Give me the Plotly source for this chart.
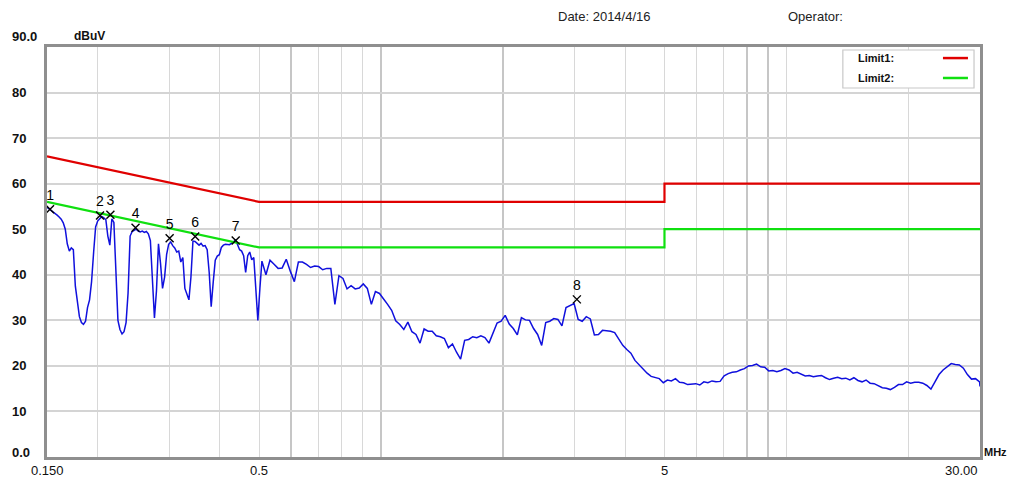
import math
import plotly.graph_objects as go

# ---------------- data ----------------
freq_mhz = [
    0.1500, 0.1517, 0.1535, 0.1553, 0.1571, 0.1589, 0.1607, 0.1626, 0.1645, 0.1664,
    0.1683, 0.1703, 0.1722, 0.1742, 0.1762, 0.1783, 0.1803, 0.1824, 0.1845, 0.1867,
    0.1888, 0.1910, 0.1932, 0.1955, 0.1977, 0.2000, 0.2024, 0.2047, 0.2071, 0.2095,
    0.2119, 0.2143, 0.2168, 0.2193, 0.2219, 0.2244, 0.2270, 0.2297, 0.2323, 0.2350,
    0.2377, 0.2405, 0.2433, 0.2461, 0.2489, 0.2518, 0.2547, 0.2577, 0.2607, 0.2637,
    0.2667, 0.2698, 0.2730, 0.2761, 0.2793, 0.2825, 0.2858, 0.2891, 0.2925, 0.2959,
    0.2993, 0.3028, 0.3063, 0.3098, 0.3134, 0.3170, 0.3207, 0.3244, 0.3282, 0.3320,
    0.3358, 0.3397, 0.3436, 0.3476, 0.3516, 0.3557, 0.3598, 0.3640, 0.3682, 0.3725,
    0.3768, 0.3811, 0.3856, 0.3900, 0.3945, 0.3991, 0.4037, 0.4084, 0.4131, 0.4179,
    0.4228, 0.4276, 0.4326, 0.4376, 0.4427, 0.4478, 0.4530, 0.4582, 0.4635, 0.4689,
    0.4743, 0.4798, 0.4854, 0.4910, 0.4967, 0.5025,
    0.5083, 0.5201, 0.5322, 0.5446, 0.5573, 0.5703, 0.5836, 0.5972, 0.6111, 0.6253,
    0.6399, 0.6548, 0.6700, 0.6856, 0.7016, 0.7179, 0.7347, 0.7518, 0.7693, 0.7872,
    0.8055, 0.8243, 0.8435, 0.8632, 0.8833, 0.9038, 0.9249, 0.9464, 0.9685, 0.9910,
    1.0141, 1.0377, 1.0619, 1.0867, 1.1120, 1.1379, 1.1644, 1.1915, 1.2192, 1.2476,
    1.2767, 1.3064, 1.3369, 1.3680, 1.3999, 1.4325, 1.4659, 1.5000, 1.5349, 1.5707,
    1.6073, 1.6446, 1.6829, 1.7223, 1.7624, 1.8034, 1.8455, 1.8884, 1.9323, 1.9775,
    2.0235, 2.0706, 2.1188, 2.1681, 2.2187, 2.2704, 2.3232, 2.3774, 2.4327, 2.4894,
    2.5473, 2.6067, 2.6674, 2.7296, 2.7932, 2.8583, 2.9247, 2.9930, 3.0626, 3.1340,
    3.2070, 3.2817, 3.3581, 3.4364, 3.5163, 3.5982, 3.6821, 3.7679, 3.8556, 3.9455,
    4.0373, 4.1314, 4.2277, 4.3262, 4.4269, 4.5302, 4.6356, 4.7435, 4.8540, 4.9672,
    5.0828, 5.2012, 5.3222, 5.4462, 5.5731, 5.7029, 5.8358, 5.9717, 6.1107, 6.2531,
    6.3987, 6.5478, 6.7002, 6.8564, 7.0161, 7.1795, 7.3467, 7.5179, 7.6929, 7.8722,
    8.0555, 8.2431, 8.4351, 8.6316, 8.8326, 9.0384, 9.2487, 9.4644, 9.6848, 9.9104,
    10.141, 10.377, 10.619, 10.867, 11.120, 11.379, 11.644, 11.915, 12.192, 12.476,
    12.767, 13.064, 13.369, 13.680, 13.999, 14.325, 14.659, 15.000, 15.349, 15.707,
    16.073, 16.446, 16.829, 17.223, 17.624, 18.034, 18.455, 18.884, 19.323, 19.775,
    20.235, 20.706, 21.188, 21.681, 22.187, 22.704, 23.232, 23.774, 24.327, 24.894,
    25.473, 26.067, 26.674, 27.296, 27.932, 28.583, 29.247, 29.930, 30.000,
]

level_dbuv = [
    54.8, 54.5, 54.1, 53.8, 53.5, 53.1, 52.7, 52.2, 51.4, 50.0,
    46.8, 45.2, 45.9, 45.5, 37.5, 33.8, 30.8, 29.5, 29.1, 29.8,
    32.8, 34.5, 38.5, 45.0, 50.5, 51.8, 52.4, 52.8, 52.5, 52.1,
    48.5, 46.5, 52.3, 51.5, 40.5, 30.0, 28.0, 27.0, 27.5, 29.5,
    36.0, 48.5, 49.5, 49.8, 50.0, 49.6, 49.4, 49.6, 49.3, 49.5,
    49.0, 47.5, 39.5, 30.5, 36.5, 46.8, 42.5, 37.0, 39.5, 44.5,
    46.7, 47.2, 46.4, 45.9, 45.0, 45.2, 42.8, 43.8, 37.0, 35.5,
    34.5, 39.5, 47.4, 47.3, 46.8, 46.5, 46.9, 46.3, 46.4, 45.5,
    40.5, 33.0, 38.5, 43.2, 44.1, 44.4, 46.0, 46.5, 46.7, 46.6,
    46.6, 46.9, 47.3, 47.6, 46.6, 45.5, 45.2, 44.2, 40.5, 44.2,
    45.0, 43.3, 43.8, 38.0, 30.0, 37.0,
    43.0, 40.0, 43.2, 42.3, 41.4, 41.5, 43.4, 40.8, 38.5, 42.8,
    42.8, 42.3, 41.6, 41.9, 41.8, 41.1, 41.4, 41.4, 33.5, 39.8,
    39.2, 36.9, 37.6, 36.9, 37.1, 38.0, 37.0, 33.5, 36.3, 35.9,
    34.8, 33.5, 32.2, 29.9, 29.1, 28.0, 29.6, 27.5, 26.9, 25.0,
    28.1, 27.6, 27.6, 26.6, 26.4, 26.0, 24.0, 24.8, 23.0, 21.5,
    25.6, 25.8, 26.4, 26.2, 26.6, 26.2, 25.0, 27.3, 29.4, 29.8,
    31.1, 29.2, 28.2, 26.8, 30.6, 30.1, 30.0, 28.2, 26.9, 24.5,
    29.5, 29.8, 30.4, 30.2, 28.8, 32.8, 33.3, 33.7, 30.2, 29.8,
    30.8, 30.3, 26.8, 26.9, 27.8, 27.7, 27.6, 27.3, 25.8, 24.5,
    23.6, 22.8, 21.2, 20.2, 19.3, 18.4, 17.7, 17.5, 17.2, 16.3,
    16.9, 16.7, 17.2, 16.4, 16.3, 15.9, 16.0, 16.1, 15.8, 16.5,
    16.3, 16.7, 16.5, 16.6, 17.8, 18.3, 18.6, 18.7, 19.1, 19.4,
    20.0, 20.1, 20.4, 19.8, 19.7, 18.9, 19.0, 18.7, 19.0, 19.4,
    19.1, 18.4, 18.6, 18.2, 17.8, 17.9, 17.6, 17.8, 17.9, 17.4,
    17.0, 17.3, 17.5, 17.2, 17.3, 16.9, 17.4, 16.8, 16.5, 16.9,
    16.2, 16.1, 15.6, 15.2, 15.1, 14.8, 15.3, 15.9, 15.9, 16.5,
    16.2, 16.4, 16.4, 16.2, 15.7, 14.9, 16.5, 18.1, 19.1, 19.9,
    20.5, 20.3, 20.2, 19.5, 18.1, 17.1, 17.2, 16.5, 15.5,
]

limit1_freq = [0.15, 0.5, 5.0, 5.0, 30.0]
limit1_level = [66.0, 56.0, 56.0, 60.0, 60.0]
limit2_freq = [0.15, 0.5, 5.0, 5.0, 30.0]
limit2_level = [56.0, 46.0, 46.0, 50.0, 50.0]

marker_labels = ["1", "2", "3", "4", "5", "6", "7", "8"]
marker_freq = [0.1526, 0.2027, 0.2150, 0.248, 0.301, 0.348, 0.438, 3.04]
marker_level = [54.4, 53.0, 53.2, 50.3, 48.0, 48.4, 47.5, 34.6]

y_tick_vals = [0, 10, 20, 30, 40, 50, 60, 70, 80, 90]
y_tick_text = ["0.0", "10", "20", "30", "40", "50", "60", "70", "80", "90.0"]
x_tick_vals = [0.15, 0.5, 5, 30]
x_tick_text = ["0.150", "0.5", "5", "30.00"]
grid_major = [0.6, 1, 2, 8, 9]
grid_minor = [0.2, 0.3, 0.4, 0.5, 0.7, 0.8, 0.9, 3, 4, 5, 6, 7, 10, 20]

legend_names = ["Limit1:", "Limit2:"]
header_date = "Date: 2014/4/16"
header_operator = "Operator:"
y_unit = "dBuV"
x_unit = "MHz"

# ---------------- figure ----------------
# the page body has an 8 px margin, so the figure is sized to fit the window
FONT = "Liberation Sans, Arial, sans-serif"
fig = go.Figure()

fig.add_trace(go.Scatter(x=freq_mhz, y=level_dbuv, mode="lines",
                         line=dict(color="#1010dd", width=1.5), hoverinfo="skip"))
fig.add_trace(go.Scatter(x=limit1_freq, y=limit1_level, mode="lines",
                         line=dict(color="#e00000", width=2.2), name=legend_names[0]))
fig.add_trace(go.Scatter(x=limit2_freq, y=limit2_level, mode="lines",
                         line=dict(color="#10e010", width=2.2), name=legend_names[1]))
fig.add_trace(go.Scatter(x=marker_freq, y=marker_level, mode="markers+text",
                         text=marker_labels, textposition="top center",
                         textfont=dict(family=FONT, size=14, color="black"),
                         marker=dict(symbol="x-thin", size=8, color="black",
                                     line=dict(width=1.4, color="black"))))

fig.update_layout(
    width=1009, height=474,
    margin=dict(l=39, r=37, t=39, b=25),
    paper_bgcolor="white", plot_bgcolor="white",
    showlegend=False,
    font=dict(family=FONT, size=12, color="black"),
    xaxis=dict(type="log", range=[math.log10(0.15), math.log10(30)],
               tickmode="array", tickvals=grid_major, showticklabels=False,
               ticks="", showgrid=True, gridcolor="#c6c6c6", gridwidth=2,
               minor=dict(tickmode="array", tickvals=grid_minor, showgrid=True,
                          gridcolor="#d8d8d8", gridwidth=1.3, ticks=""),
               showline=True, linecolor="#8f8f8f", linewidth=2.5, mirror=True,
               zeroline=False),
    yaxis=dict(range=[0, 90], tickmode="array", tickvals=y_tick_vals,
               showticklabels=False, ticks="", showgrid=True,
               gridcolor="#d4d4d4", gridwidth=1.5,
               showline=True, linecolor="#8f8f8f", linewidth=2.5, mirror=True,
               zeroline=False),
)

ann = []
for v, t in zip(y_tick_vals, y_tick_text):
    shift = 11 if v == 90 else (5 if v == 0 else 0)
    ann.append(dict(xref="paper", yref="y", x=-0.0397, y=v, yshift=shift,
                    text="<b>%s</b>" % t, showarrow=False, xanchor="left",
                    yanchor="middle", font=dict(family=FONT, size=13, color="#111")))
for v, t in zip(x_tick_vals, x_tick_text):
    xa = "right" if v == 30 else "center"
    ann.append(dict(xref="x", yref="paper", x=math.log10(v), y=0, yshift=-4,
                    text=t, showarrow=False, xanchor=xa, yanchor="top",
                    font=dict(family=FONT, size=13, color="#111")))
ann.append(dict(xref="paper", yref="paper", x=0.0268, y=1.0268, text="<b>%s</b>" % y_unit,
                showarrow=False, xanchor="left", yanchor="middle",
                font=dict(family=FONT, size=12, color="#111")))
ann.append(dict(xref="paper", yref="paper", x=1.0025, y=0.0122, text="<b>%s</b>" % x_unit,
                showarrow=False, xanchor="left", yanchor="middle",
                font=dict(family=FONT, size=11, color="#111")))
ann.append(dict(xref="paper", yref="paper", x=0.5455, y=1.0756, text=header_date,
                showarrow=False, xanchor="left", yanchor="middle",
                font=dict(family=FONT, size=13, color="#222")))
ann.append(dict(xref="paper", yref="paper", x=0.792, y=1.0756, text=header_operator,
                showarrow=False, xanchor="left", yanchor="middle",
                font=dict(family=FONT, size=13, color="#222")))
# legend box
legend_y = [0.973, 0.9244]
legend_colors = ["#e00000", "#10e010"]
shapes = [dict(type="rect", xref="paper", yref="paper", x0=0.853, x1=0.9936,
               y0=0.900, y1=0.9927, line=dict(color="#c8c8c8", width=1.2),
               fillcolor="white", layer="above")]
for name, ly, col in zip(legend_names, legend_y, legend_colors):
    ann.append(dict(xref="paper", yref="paper", x=0.8671, y=ly, text="<b>%s</b>" % name,
                    showarrow=False, xanchor="left", yanchor="middle",
                    font=dict(family=FONT, size=11, color="#111")))
    shapes.append(dict(type="line", xref="paper", yref="paper", x0=0.9603, x1=0.9871,
                       y0=ly, y1=ly, line=dict(color=col, width=2.5), layer="above"))
fig.update_layout(annotations=ann, shapes=shapes)

fig.write_html("out.html")
